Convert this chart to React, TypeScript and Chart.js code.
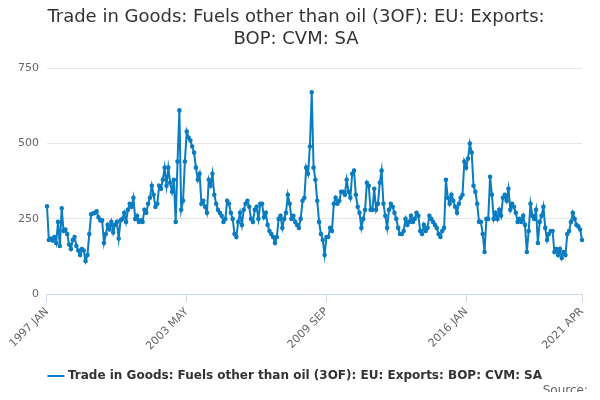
import React, { useEffect, useRef } from "react";
import { Chart, registerables } from "chart.js";
Chart.register(...registerables);

const values: number[] = [
  292,180,185,178,190,170,240,160,285,210,215,200,
  165,150,180,190,160,145,130,150,145,110,130,200,
  265,268,270,275,255,245,245,170,200,230,215,240,
  205,230,240,185,245,250,270,240,280,300,290,320,
  250,260,240,245,240,280,270,300,320,360,330,290,
  300,360,350,380,420,360,420,370,340,380,240,440,
  610,280,310,440,540,520,510,490,470,420,380,400,
  300,310,290,270,380,360,400,330,300,280,270,260,
  240,250,310,300,270,250,200,190,240,270,230,280,
  300,310,290,250,240,280,290,250,300,300,255,270,
  230,210,200,190,170,190,250,260,220,250,270,330,
  300,250,260,240,230,220,250,310,320,420,400,490,
  670,420,380,310,240,200,180,130,190,190,220,210,
  300,320,300,310,340,340,330,380,340,320,400,410,
  330,290,270,220,250,280,370,360,280,280,350,280,
  300,370,410,300,260,220,280,300,290,270,250,220,
  200,200,210,250,230,240,260,240,250,270,260,210,
  200,230,210,220,260,250,240,230,220,200,190,210,
  220,380,320,300,330,310,290,270,300,320,330,440,
  420,450,500,470,360,340,300,240,240,200,140,250,
  250,390,330,250,270,250,280,260,320,330,310,350,
  280,300,290,270,240,250,240,260,230,140,210,300,
  260,250,280,170,240,260,290,220,180,200,210,210,
  140,150,130,150,120,140,130,200,210,240,270,250,
  230,225,215,180,
];
const months = ["JAN","FEB","MAR","APR","MAY","JUN","JUL","AUG","SEP","OCT","NOV","DEC"];
const labels: string[] = values.map((_, i) => `${1997 + Math.floor(i / 12)} ${months[i % 12]}`);
const yTicks = [0, 250, 500, 750];

export default function App() {
  const ref = useRef<HTMLCanvasElement>(null);
  useEffect(() => {
    const last = labels.length - 1;
    const chart = new Chart(ref.current!, {
      type: "line",
      data: {
        labels,
        datasets: [{
          label: "Trade in Goods: Fuels other than oil (3OF): EU: Exports: BOP: CVM: SA",
          data: values,
          borderColor: "#0a7cc1",
          backgroundColor: "#0a7cc1",
          borderWidth: 2,
          pointRadius: 1.3,
          pointHoverRadius: 3,
          tension: 0,
        }],
      },
      options: {
        animation: false,
        responsive: false,
        layout: { padding: { left: 10, right: 18, top: 0, bottom: 0 } },
        plugins: {
          title: {
            display: true,
            text: ["Trade in Goods: Fuels other than oil (3OF): EU: Exports:", "BOP: CVM: SA"],
            color: "#333",
            font: { family: "DejaVu Sans", size: 18, weight: "normal", lineHeight: 1.2 },
            padding: { top: 7, bottom: 18 },
          },
          legend: {
            position: "bottom",
            labels: {
              usePointStyle: true,
              pointStyle: "line",
              color: "#333",
              font: { family: "DejaVu Sans", size: 12, weight: "bold" },
              padding: 14,
            },
          },
          tooltip: { enabled: false },
        },
        scales: {
          x: {
            grid: { display: true, drawOnChartArea: false, color: "#ccd6eb", tickLength: 8 },
            border: { color: "#ccd6eb" },
            ticks: {
              autoSkip: false,
              maxRotation: 45,
              minRotation: 45,
              color: "#666",
              font: { family: "DejaVu Sans", size: 11 },
              callback: (_v, i) => (i % 76 === 0 || i === last ? labels[i] : null),
            },
          },
          y: {
            min: 0,
            max: 750,
            afterBuildTicks: (axis) => { axis.ticks = yTicks.map((v) => ({ value: v })); },
            grid: { color: "#e6e6e6", drawTicks: false },
            border: { display: false },
            ticks: { color: "#666", padding: 8, font: { family: "DejaVu Sans", size: 11 } },
          },
        },
      },
    });
    return () => chart.destroy();
  }, []);
  return (
    <div style={{ position: "relative", width: 600, height: 400, margin: -8, background: "#fff" }}>
      <canvas ref={ref} width={600} height={392} />
      <div style={{ position: "absolute", right: 12, bottom: 3, fontFamily: "DejaVu Sans", fontSize: 12, color: "#666" }}>Source:</div>
    </div>
  );
}
